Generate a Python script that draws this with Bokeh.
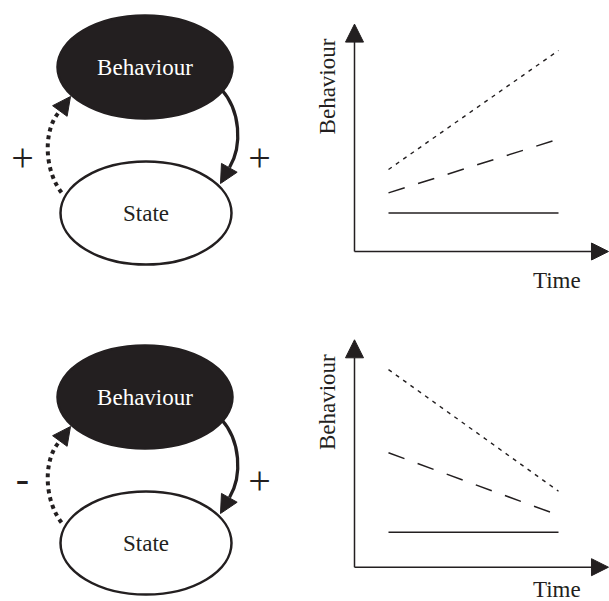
from bokeh.plotting import figure
from bokeh.layouts import column, row
from bokeh.models import Range1d, Arrow, NormalHead
from bokeh.core.properties import value
from bokeh.embed import file_html
from bokeh.resources import INLINE
import math

INK = "#231f20"
FONT = "Liberation Serif"

# ---------------- data ----------------
# diagram nodes (shared by both feedback diagrams)
node_labels = ["Behaviour", "State"]
node_x = [144.5, 145.5]
node_y = [66.6, 212.6]
node_w = [175, 171]
node_h = [103, 103]
node_fill = [INK, "white"]
node_text = ["white", INK]

# feedback signs: [left (State -> Behaviour), right (Behaviour -> State)]
signs_top = ["+", "+"]
signs_bottom = ["-", "+"]
sign_x = [22, 259]
sign_y_top = [157, 157]
sign_y_bottom = [148, 150]

# arrows: solid (Behaviour -> State) and dotted (State -> Behaviour) bezier paths
solid_path = dict(x0=221, y0=89, cx0=240, cy0=110, cx1=242, cy1=145, x1=229, y1=167, tipx=220, tipy=183)
dotted_path = dict(x0=61, y0=192, cx0=44, cy0=170, cx1=42, cy1=130, x1=59, y1=111, tipx=70, tipy=96)

# time-course panels
time = [1, 6]
up_solid = [1.93, 1.93]
up_dashed = [2.93, 5.62]
up_dotted = [4.1, 10.05]
down_solid = [1.75, 1.75]
down_dashed = [5.72, 2.6]
down_dotted = [9.88, 3.8]
axis_x_end = 7.47
axis_y_end = 11.37


def base_fig(w, h, xr, yr):
    p = figure(width=w, height=h, x_range=xr, y_range=yr, output_backend="svg",
               toolbar_location=None, min_border=0, x_axis_type=None, y_axis_type=None,
               outline_line_color=None, background_fill_color="white",
               border_fill_color="white")
    p.xgrid.visible = False
    p.ygrid.visible = False
    return p


def diagram(yr, h, signs, sign_y):
    p = base_fig(304, h, Range1d(0, 304), Range1d(yr[0], yr[1]))
    s = solid_path
    p.bezier(x0=[s["x0"]], y0=[s["y0"]], x1=[s["x1"]], y1=[s["y1"]],
             cx0=[s["cx0"]], cy0=[s["cy0"]], cx1=[s["cx1"]], cy1=[s["cy1"]],
             line_color=INK, line_width=3.3)
    d = dotted_path
    p.bezier(x0=[d["x0"]], y0=[d["y0"]], x1=[d["x1"]], y1=[d["y1"]],
             cx0=[d["cx0"]], cy0=[d["cy0"]], cx1=[d["cx1"]], cy1=[d["cy1"]],
             line_color=INK, line_width=4, line_dash="4 4")
    p.ellipse(x=node_x, y=node_y, width=node_w, height=node_h,
              fill_color=node_fill, line_color=INK, line_width=2.5)
    p.text(x=node_x, y=node_y, text=node_labels, text_color=node_text,
           text_font=value(FONT), text_font_size="23px",
           text_align="center", text_baseline="middle")
    p.text(x=sign_x, y=sign_y, text=signs, text_color=INK,
           text_font=value(FONT), text_font_size="40px",
           text_align="center", text_baseline="middle")
    for path in (s, d):
        p.add_layout(Arrow(end=NormalHead(size=18, fill_color=INK, line_color=INK, line_width=1),
                           x_start=path["x1"], y_start=path["y1"],
                           x_end=path["tipx"], y_end=path["tipy"],
                           line_alpha=0, line_width=0))
    return p


def panel(yr, h, solid, dashed, dotted, time_label_y):
    p = base_fig(305, h, Range1d(-50 / 34, 255 / 34), Range1d(yr[0], yr[1]))
    p.line(time, solid, line_color=INK, line_width=1.5)
    p.line(time, dashed, line_color=INK, line_width=1.5, line_dash="17 14")
    p.line(time, dotted, line_color=INK, line_width=1.4, line_dash="4 5")
    p.add_layout(Arrow(end=NormalHead(size=17, fill_color=INK, line_color=INK, line_width=1),
                       x_start=0, y_start=0, x_end=axis_x_end, y_end=0,
                       line_color=INK, line_width=1.5))
    p.add_layout(Arrow(end=NormalHead(size=18, fill_color=INK, line_color=INK, line_width=1),
                       x_start=0, y_start=0, x_end=0, y_end=axis_y_end,
                       line_color=INK, line_width=1.5))
    p.text(x=[-0.79], y=[8.25], text=["Behaviour"], angle=math.pi / 2, text_color=INK,
           text_font=value(FONT), text_font_size="23px",
           text_align="center", text_baseline="middle")
    p.text(x=[5.95], y=[time_label_y], text=["Time"], text_color=INK,
           text_font=value(FONT), text_font_size="23px",
           text_align="center", text_baseline="middle")
    return p


tl = diagram((300, 0), 300, signs_top, sign_y_top)
bl = diagram((271, -30), 301, signs_bottom, sign_y_bottom)
tr = panel((-(300 - 251) / 20, 251 / 20), 300, up_solid, up_dashed, up_dotted, -1.43)
br = panel((-(601 - 566.7) / 20, (566.7 - 300) / 20), 301, down_solid, down_dashed, down_dotted, -1.12)

layout = column(row(tl, tr), row(bl, br))
open("out.html", "w").write(file_html(layout, INLINE))
